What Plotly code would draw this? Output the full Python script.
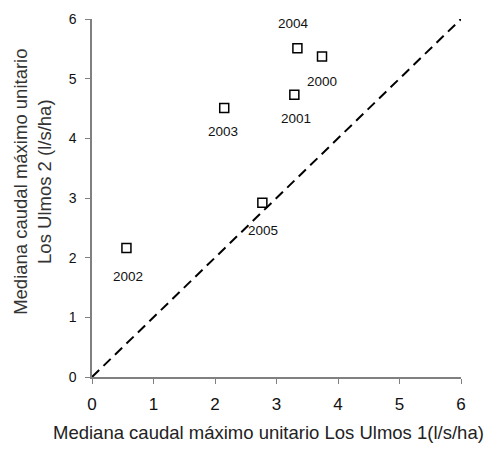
import plotly.graph_objects as go

years = ["2000", "2001", "2002", "2003", "2004", "2005"]
x_vals = [3.74, 3.29, 0.56, 2.15, 3.34, 2.77]
y_vals = [5.37, 4.73, 2.16, 4.51, 5.51, 2.92]
label_x = [3.74, 3.31, 0.59, 2.13, 3.27, 2.78]
label_y = [4.96, 4.33, 1.69, 4.11, 5.93, 2.46]
line_x = [0, 6]
line_y = [0, 6]
ticks = [0, 1, 2, 3, 4, 5, 6]

font = "Liberation Sans, Arial, sans-serif"

fig = go.Figure()
fig.add_trace(go.Scatter(x=line_x, y=line_y, mode="lines",
                         line=dict(color="black", width=2, dash="10px,6px"),
                         showlegend=False, hoverinfo="skip"))
fig.add_trace(go.Scatter(x=x_vals, y=y_vals, mode="markers",
                         marker=dict(symbol="square-open", size=9,
                                     color="black", line=dict(width=1.5, color="black")),
                         showlegend=False))
for yr, lx, ly in zip(years, label_x, label_y):
    fig.add_annotation(x=lx, y=ly, text=yr, showarrow=False,
                       font=dict(family=font, size=13.5, color="#111"))

fig.add_annotation(xref="paper", yref="paper", x=-0.16, y=0.545,
                   text="Mediana caudal máximo unitario<br>Los Ulmos 2 (l/s/ha)",
                   textangle=-90, showarrow=False, xanchor="center", yanchor="middle",
                   font=dict(family=font, size=18.5, color="#333"))

fig.add_annotation(xref="paper", yref="paper", x=0.478, y=-0.156,
                   text="Mediana caudal máximo unitario Los Ulmos 1(l/s/ha)",
                   showarrow=False, xanchor="center", yanchor="middle",
                   font=dict(family=font, size=18.5, color="#222"))

fig.update_layout(
    width=486, height=449,
    margin=dict(l=92, r=25, t=19, b=72),
    plot_bgcolor="white", paper_bgcolor="white",
    font=dict(family=font, color="#111"),
    xaxis=dict(range=[0, 6], tickvals=ticks, showgrid=False, zeroline=False,
               showline=True, linecolor="#808080", linewidth=1.5,
               ticks="outside", ticklen=5, tickcolor="#808080",
               ticklabelstandoff=6,
               tickfont=dict(size=17, family=font)),
    yaxis=dict(range=[0, 6], tickvals=ticks, showgrid=False, zeroline=False,
               showline=True, linecolor="#808080", linewidth=1.5,
               ticks="outside", ticklen=5, tickcolor="#808080",
               ticklabelstandoff=6,
               tickfont=dict(size=14, family=font)),
)
fig.write_html("out.html")
